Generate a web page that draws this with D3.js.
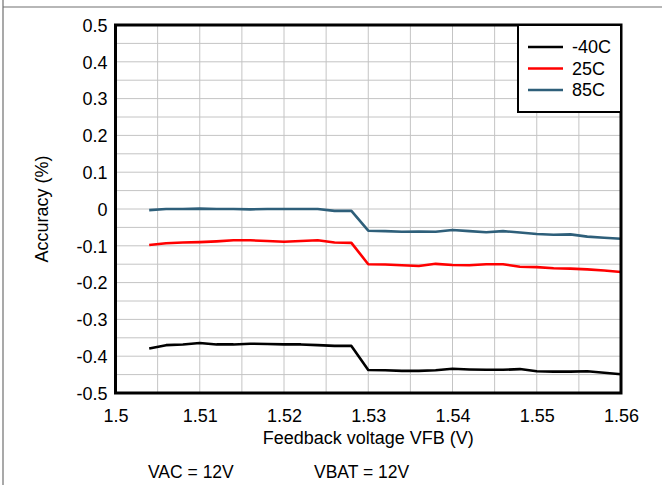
<!DOCTYPE html>
<html><head><meta charset="utf-8">
<script src="https://cdn.jsdelivr.net/npm/d3@7"></script>
<style>body{margin:0;background:#fff}svg{display:block;font-family:"Liberation Sans",Arial,sans-serif}</style>
</head><body><svg id="c" width="662" height="485"></svg>
<script>
const xValues = [1.504,1.506,1.508,1.510,1.512,1.514,1.516,1.518,1.520,1.522,1.524,1.526,1.528,1.530,1.532,1.534,1.536,1.538,1.540,1.542,1.544,1.546,1.548,1.550,1.552,1.554,1.556,1.558,1.560];
const seriesNames = ["-40C","25C","85C"];
const seriesColors = ["#000000","#ff0000","#2e5f7a"];
const tMinus40 = [-0.379,-0.370,-0.368,-0.364,-0.368,-0.368,-0.366,-0.367,-0.368,-0.368,-0.370,-0.372,-0.372,-0.4375,-0.438,-0.440,-0.440,-0.438,-0.434,-0.436,-0.437,-0.437,-0.435,-0.441,-0.442,-0.442,-0.441,-0.445,-0.449];
const t25 = [-0.098,-0.093,-0.091,-0.090,-0.088,-0.085,-0.085,-0.087,-0.089,-0.087,-0.085,-0.091,-0.092,-0.150,-0.151,-0.153,-0.155,-0.149,-0.152,-0.153,-0.150,-0.150,-0.157,-0.158,-0.161,-0.162,-0.164,-0.167,-0.171];
const t85 = [-0.003,0.000,0.000,0.001,0.000,0.000,-0.001,0.000,0.000,0.000,0.000,-0.005,-0.005,-0.059,-0.060,-0.062,-0.061,-0.062,-0.057,-0.060,-0.063,-0.060,-0.064,-0.068,-0.070,-0.069,-0.075,-0.078,-0.081];
const xTicks = [1.5,1.51,1.52,1.53,1.54,1.55,1.56];
const xTickLabels = ["1.5","1.51","1.52","1.53","1.54","1.55","1.56"];
const yTicks = [0.5,0.4,0.3,0.2,0.1,0,-0.1,-0.2,-0.3,-0.4,-0.5];
const yTickLabels = ["0.5","0.4","0.3","0.2","0.1","0","-0.1","-0.2","-0.3","-0.4","-0.5"];
const xGrid = d3.range(1,12).map(i=>1.5+i*0.005);
const yGrid = d3.range(1,20).map(i=>-0.5+i*0.05);
const series = [tMinus40,t25,t85];

const svg = d3.select("#c");
const L=115.5,R=621,T=25,B=393;
const x = d3.scaleLinear().domain([1.5,1.56]).range([L,R]);
const y = d3.scaleLinear().domain([-0.5,0.5]).range([B,T]);
const FF = "Liberation Sans, Arial, sans-serif";

// outer frame
svg.append("line").attr("x1",3).attr("x2",3).attr("y1",0).attr("y2",485).attr("stroke","#707070").attr("stroke-width",1.2);
svg.append("line").attr("x1",3).attr("x2",662).attr("y1",7).attr("y2",7).attr("stroke","#707070").attr("stroke-width",1.2);

// grid
const g = svg.append("g");
g.selectAll(".gx").data(xGrid).join("line").attr("x1",d=>x(d)).attr("x2",d=>x(d)).attr("y1",T).attr("y2",B).attr("stroke","#c4c4c4").attr("stroke-width",1);
g.selectAll(".gy").data(yGrid).join("line").attr("x1",L).attr("x2",R).attr("y1",d=>y(d)).attr("y2",d=>y(d)).attr("stroke","#c4c4c4").attr("stroke-width",1);

// lines
const line = d3.line().x((d,i)=>x(xValues[i])).y(d=>y(d));
series.forEach((s,k)=>{
  svg.append("path").datum(s).attr("d",line).attr("fill","none").attr("stroke",seriesColors[k]).attr("stroke-width",2.6).attr("stroke-linejoin","round");
});

// plot border
svg.append("rect").attr("x",L).attr("y",T).attr("width",R-L).attr("height",B-T).attr("fill","none").attr("stroke","#000").attr("stroke-width",3);

// axes
const xAxis = d3.axisBottom(x).tickValues(xTicks).tickSize(0).tickPadding(0).tickFormat((d,i)=>xTickLabels[i]);
const xa = svg.append("g").attr("transform",`translate(0,${B})`).call(xAxis);
xa.select(".domain").remove();
xa.selectAll("text").attr("font-size",18).attr("fill","#000").attr("dy",null).attr("y",29).attr("font-family",FF);

const yAxis = d3.axisLeft(y).tickValues(yTicks).tickSize(0).tickPadding(0).tickFormat((d,i)=>yTickLabels[i]);
const ya = svg.append("g").attr("transform",`translate(${L},0)`).call(yAxis);
ya.select(".domain").remove();
ya.selectAll("text").attr("font-size",18).attr("fill","#000").attr("x",-8).attr("dy","0.35em").attr("font-family",FF);

// titles
svg.append("text").attr("x",(L+R)/2).attr("y",444).attr("text-anchor","middle").attr("font-size",18).text("Feedback voltage VFB (V)");
svg.append("text").attr("transform",`translate(48,${(T+B)/2}) rotate(-90)`).attr("text-anchor","middle").attr("font-size",18).text("Accuracy (%)");
svg.append("text").attr("x",148).attr("y",478).attr("font-size",17.5).text("VAC = 12V");
svg.append("text").attr("x",314).attr("y",478).attr("font-size",17.5).text("VBAT = 12V");

// legend
const lg = svg.append("g");
lg.append("rect").attr("x",518).attr("y",T).attr("width",R-518).attr("height",112-T).attr("fill","#fff").attr("stroke","#000").attr("stroke-width",2);
seriesNames.forEach((n,i)=>{
  const yy = 47 + i*21.5;
  lg.append("line").attr("x1",528).attr("x2",563).attr("y1",yy).attr("y2",yy).attr("stroke",seriesColors[i]).attr("stroke-width",2.6);
  lg.append("text").attr("x",572).attr("y",yy).attr("dy","0.35em").attr("font-size",18).text(n);
});
</script></body></html>
